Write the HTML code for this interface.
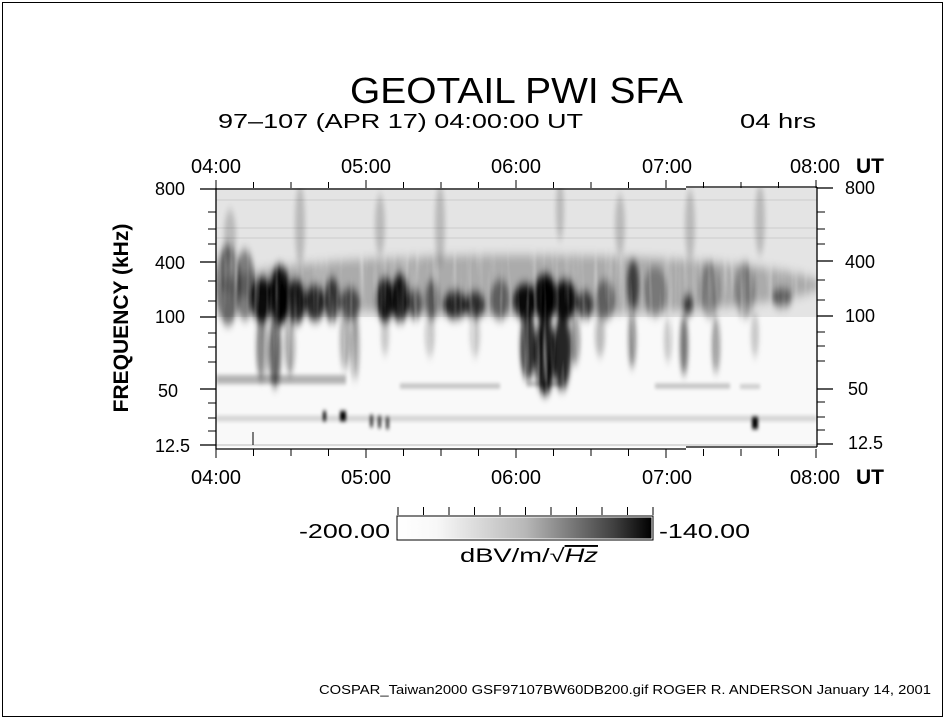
<!DOCTYPE html>
<html><head><meta charset="utf-8"><style>html,body{margin:0;padding:0;background:#fff}svg{display:block}text{font-family:"Liberation Sans",sans-serif;fill:#000}</style></head><body>
<svg width="945" height="720" viewBox="0 0 945 720" xmlns="http://www.w3.org/2000/svg">
<defs>
<filter id="b" x="-50%" y="-50%" width="200%" height="200%"><feGaussianBlur stdDeviation="2.5 5"/></filter>
<filter id="b2" x="-50%" y="-50%" width="200%" height="200%"><feGaussianBlur stdDeviation="1.5 2"/></filter>
<filter id="tm" x="0" y="0" width="100%" height="100%"><feTurbulence type="fractalNoise" baseFrequency="0.15 0.01" numOctaves="2" seed="7"/><feColorMatrix type="matrix" values="1.8 0 0 0 0  1.8 0 0 0 0  1.8 0 0 0 0  0 0 0 0 1"/></filter>
<mask id="mk"><rect x="216" y="188" width="601" height="259" filter="url(#tm)"/></mask>
<linearGradient id="cb" x1="0" x2="1"><stop offset="0" stop-color="#fff"/><stop offset="0.15" stop-color="#f8f8f8"/><stop offset="0.5" stop-color="#b8b8b8"/><stop offset="0.85" stop-color="#404040"/><stop offset="1" stop-color="#000"/></linearGradient>
<clipPath id="pc"><rect x="216" y="188" width="601" height="259"/></clipPath>
</defs>
<rect x="2.5" y="2.5" width="940" height="714" fill="none" stroke="#000"/>
<text x="350" y="103" font-size="36" textLength="333" lengthAdjust="spacingAndGlyphs">GEOTAIL PWI SFA</text>
<text x="218" y="128" font-size="20" textLength="365" lengthAdjust="spacingAndGlyphs">97–107 (APR 17) 04:00:00 UT</text>
<text x="740" y="128" font-size="20" textLength="76" lengthAdjust="spacingAndGlyphs">04 hrs</text>
<g font-size="20">
<text x="216" y="173" text-anchor="middle">04:00</text>
<text x="366" y="173" text-anchor="middle">05:00</text>
<text x="516" y="173" text-anchor="middle">06:00</text>
<text x="667" y="173" text-anchor="middle">07:00</text>
<text x="815" y="173" text-anchor="middle">08:00</text>
<text x="216" y="484" text-anchor="middle">04:00</text>
<text x="366" y="484" text-anchor="middle">05:00</text>
<text x="516" y="484" text-anchor="middle">06:00</text>
<text x="667" y="484" text-anchor="middle">07:00</text>
<text x="815" y="484" text-anchor="middle">08:00</text>
</g>
<text x="856" y="173" font-size="21" font-weight="bold">UT</text>
<text x="856" y="484" font-size="21" font-weight="bold">UT</text>
<g font-size="18">
<text x="155" y="195">800</text><text x="155" y="269">400</text><text x="155" y="323">100</text><text x="158" y="397">50</text><text x="155" y="452">12.5</text>
<text x="845" y="194">800</text><text x="845" y="268">400</text><text x="845" y="322">100</text><text x="848" y="395">50</text><text x="848" y="449">12.5</text>
</g>
<text transform="translate(128,318) rotate(-90)" font-size="21" font-weight="bold" text-anchor="middle">FREQUENCY  (kHz)</text>
<g clip-path="url(#pc)">
<rect x="216" y="188" width="601" height="130" fill="#e4e4e4"/>
<rect x="216" y="317" width="601" height="130" fill="#f9f9f9"/>
<g stroke="#cdcdcd" stroke-width="1"><line x1="216" y1="228" x2="817" y2="228"/><line x1="216" y1="238" x2="817" y2="238"/><line x1="216" y1="200" x2="817" y2="200"/></g>
<g filter="url(#b)" fill="#000" opacity="0.18">
<ellipse cx="300" cy="225" rx="5" ry="40"/><ellipse cx="440" cy="225" rx="5" ry="40"/><ellipse cx="560" cy="210" rx="4" ry="30"/><ellipse cx="690" cy="225" rx="5" ry="35"/><ellipse cx="760" cy="220" rx="5" ry="35"/><ellipse cx="230" cy="235" rx="6" ry="25"/><ellipse cx="380" cy="225" rx="5" ry="30"/><ellipse cx="620" cy="225" rx="5" ry="30"/>
</g>
<g mask="url(#mk)">
<g filter="url(#b)" fill="#000">
<ellipse cx="520" cy="285" rx="300" ry="30" opacity="0.25"/>
<ellipse cx="228" cy="285" rx="12" ry="40" opacity="0.55"/>
<ellipse cx="245" cy="285" rx="10" ry="35" opacity="0.45"/>
<ellipse cx="262" cy="300" rx="12" ry="22" opacity="0.95"/>
<ellipse cx="280" cy="295" rx="10" ry="30" opacity="1"/>
<ellipse cx="296" cy="302" rx="10" ry="22" opacity="0.9"/>
<ellipse cx="315" cy="303" rx="10" ry="18" opacity="0.8"/>
<ellipse cx="332" cy="300" rx="8" ry="22" opacity="0.7"/>
<ellipse cx="350" cy="304" rx="10" ry="16" opacity="0.6"/>
<ellipse cx="385" cy="300" rx="9" ry="22" opacity="0.9"/>
<ellipse cx="400" cy="298" rx="9" ry="24" opacity="0.9"/>
<ellipse cx="415" cy="304" rx="7" ry="15" opacity="0.6"/>
<ellipse cx="432" cy="300" rx="7" ry="20" opacity="0.5"/>
<ellipse cx="455" cy="305" rx="12" ry="14" opacity="0.8"/>
<ellipse cx="475" cy="305" rx="10" ry="13" opacity="0.75"/>
<ellipse cx="500" cy="300" rx="10" ry="20" opacity="0.45"/>
<ellipse cx="525" cy="302" rx="12" ry="18" opacity="0.95"/>
<ellipse cx="545" cy="298" rx="12" ry="24" opacity="1"/>
<ellipse cx="565" cy="300" rx="12" ry="20" opacity="0.95"/>
<ellipse cx="585" cy="305" rx="8" ry="14" opacity="0.7"/>
<ellipse cx="605" cy="300" rx="10" ry="20" opacity="0.45"/>
<ellipse cx="633" cy="285" rx="6" ry="25" opacity="0.65"/>
<ellipse cx="655" cy="292" rx="12" ry="25" opacity="0.3"/>
<ellipse cx="688" cy="305" rx="5" ry="10" opacity="0.7"/>
<ellipse cx="710" cy="290" rx="10" ry="28" opacity="0.3"/>
<ellipse cx="745" cy="290" rx="10" ry="28" opacity="0.3"/>
<ellipse cx="782" cy="298" rx="10" ry="9" opacity="0.55"/>
<ellipse cx="262" cy="345" rx="6" ry="35" opacity="0.45"/>
<ellipse cx="275" cy="350" rx="6" ry="38" opacity="0.6"/>
<ellipse cx="290" cy="345" rx="5" ry="30" opacity="0.4"/>
<ellipse cx="345" cy="340" rx="5" ry="30" opacity="0.35"/>
<ellipse cx="355" cy="345" rx="4" ry="35" opacity="0.4"/>
<ellipse cx="385" cy="335" rx="4" ry="20" opacity="0.2"/>
<ellipse cx="430" cy="335" rx="5" ry="22" opacity="0.2"/>
<ellipse cx="475" cy="335" rx="5" ry="22" opacity="0.2"/>
<ellipse cx="528" cy="345" rx="8" ry="35" opacity="0.8"/>
<ellipse cx="545" cy="355" rx="10" ry="40" opacity="0.95"/>
<ellipse cx="562" cy="352" rx="9" ry="38" opacity="0.85"/>
<ellipse cx="575" cy="340" rx="5" ry="25" opacity="0.4"/>
<ellipse cx="600" cy="335" rx="5" ry="22" opacity="0.25"/>
<ellipse cx="632" cy="340" rx="4" ry="28" opacity="0.45"/>
<ellipse cx="684" cy="345" rx="4" ry="30" opacity="0.55"/>
<ellipse cx="716" cy="345" rx="4" ry="28" opacity="0.4"/>
<ellipse cx="668" cy="340" rx="4" ry="22" opacity="0.2"/>
<ellipse cx="755" cy="335" rx="4" ry="22" opacity="0.2"/>
</g>
</g>
<g filter="url(#b2)" fill="#000" opacity="0.28">
<rect x="216" y="375" width="130" height="9"/><rect x="400" y="384" width="100" height="4"/><rect x="527" y="382" width="35" height="4"/><rect x="655" y="384" width="75" height="4"/><rect x="740" y="385" width="20" height="3"/>
<rect x="216" y="416" width="601" height="5" opacity="0.6"/>
</g>
<g fill="#000" filter="url(#b2)">
<rect x="323" y="411" width="3" height="10"/><rect x="340" y="411" width="6" height="10"/><rect x="370" y="415" width="3" height="12" opacity="0.8"/><rect x="378" y="416" width="3" height="12" opacity="0.8"/><rect x="386" y="417" width="3" height="12" opacity="0.8"/><rect x="752" y="417" width="6" height="12"/>
</g>
<line x1="216" y1="445" x2="817" y2="445" stroke="#bbb"/>
</g>
<g stroke="#000" stroke-width="1.3" fill="none">
<polyline points="216,188 216,449 686,449"/>
<line x1="216" y1="189" x2="686" y2="189"/><line x1="686" y1="187" x2="817" y2="187"/>
<line x1="686" y1="447" x2="817" y2="447"/>
<line x1="817" y1="187" x2="817" y2="447"/>
<line x1="200" y1="189" x2="216" y2="189"/><line x1="200" y1="262" x2="216" y2="262"/><line x1="200" y1="317" x2="216" y2="317"/><line x1="200" y1="389" x2="216" y2="389"/><line x1="200" y1="445" x2="216" y2="445"/>
<line x1="817" y1="188" x2="833" y2="188"/><line x1="817" y1="261" x2="833" y2="261"/><line x1="817" y1="316" x2="833" y2="316"/><line x1="817" y1="389" x2="833" y2="389"/><line x1="817" y1="444" x2="833" y2="444"/>
</g>
<g stroke="#000" stroke-width="1">
<path d="M208 212h8M208 229h8M208 244h8M208 281h8M208 301h8M208 333h8M208 347h8M208 362h8M208 403h8M208 418h8M208 431h8"/>
<path d="M817 212h8M817 229h8M817 244h8M817 280h8M817 300h8M817 332h8M817 346h8M817 361h8M817 402h8M817 417h8M817 430h8"/>
<path d="M216 180v8M253.5 182v6M291 182v6M328.5 182v6M366 180v8M403.5 182v6M441 182v6M478.5 182v6M516 180v8M553.5 182v6M591 182v6M628.5 182v6M666 180v8M703.5 182v6M741 182v6M778.5 182v6M816 180v8"/>
<path d="M216 449v9M253.5 449v7M291 449v7M328.5 449v7M366 449v9M403.5 449v7M441 449v7M478.5 449v7M516 449v9M553.5 449v7M591 449v7M628.5 449v7M666 449v9M703.5 449v7M741 449v7M778.5 449v7M816 449v9"/>
<line x1="253" y1="432" x2="253" y2="445"/>
</g>
<rect x="396.5" y="515.5" width="257" height="25" fill="#000"/>
<rect x="398" y="517" width="254" height="22" fill="url(#cb)" stroke="#fff" stroke-width="1"/>
<g stroke="#000"><path d="M398 507v8M423.5 507v8M449 507v8M474.5 507v8M500 507v8M525.5 507v8M551 507v8M576.5 507v8M602 507v8M627.5 507v8M653 507v8"/></g>
<text x="299" y="538" font-size="20" textLength="91" lengthAdjust="spacingAndGlyphs">-200.00</text>
<text x="659" y="538" font-size="20" textLength="91" lengthAdjust="spacingAndGlyphs">-140.00</text>
<text x="460" y="562" font-size="19" textLength="138" lengthAdjust="spacingAndGlyphs">dBV/m/√<tspan font-style="italic" text-decoration="overline">Hz</tspan></text>
<text x="319" y="694" font-size="12.5" textLength="612" lengthAdjust="spacingAndGlyphs">COSPAR_Taiwan2000 GSF97107BW60DB200.gif  ROGER R. ANDERSON January 14, 2001</text>
</svg>
</body></html>
